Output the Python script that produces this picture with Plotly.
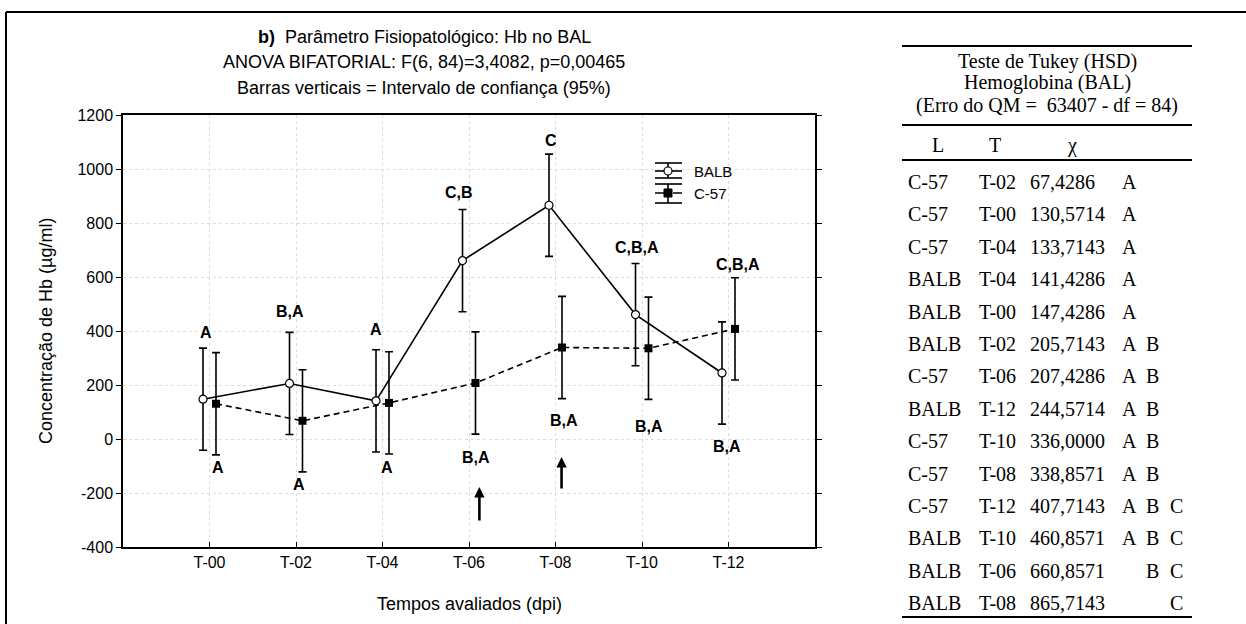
import plotly.graph_objects as go

# ---------------- data ----------------
times = ["T-00", "T-02", "T-04", "T-06", "T-08", "T-10", "T-12"]
balb_mean = [147.4286, 205.7143, 141.4286, 660.8571, 865.7143, 460.8571, 244.5714]
c57_mean = [130.5714, 67.4286, 133.7143, 207.4286, 338.8571, 336.0000, 407.7143]
balb_ci = [189.3, 189.3, 189.3, 189.3, 189.3, 189.3, 189.3]
c57_ci = [189.3, 189.3, 189.3, 189.3, 189.3, 189.3, 189.3]
y_ticks = [-400, -200, 0, 200, 400, 600, 800, 1000, 1200]
y_ticklabels = ["-400", "-200", "0", "200", "400", "600", "800", "1000", "1200"]

# group letters shown on the chart
top_letters = ["A", "B,A", "A", "C,B", "C", "C,B,A", "C,B,A"]
bottom_letters = ["A", "A", "A", "B,A", "B,A", "B,A", "B,A"]

# Tukey table
tab_L = ["C-57", "C-57", "C-57", "BALB", "BALB", "BALB", "C-57",
         "BALB", "C-57", "C-57", "C-57", "BALB", "BALB", "BALB"]
tab_T = ["T-02", "T-00", "T-04", "T-04", "T-00", "T-02", "T-06",
         "T-12", "T-10", "T-08", "T-12", "T-10", "T-06", "T-08"]
tab_X = ["67,4286", "130,5714", "133,7143", "141,4286", "147,4286", "205,7143", "207,4286",
         "244,5714", "336,0000", "338,8571", "407,7143", "460,8571", "660,8571", "865,7143"]
tab_A = ["A", "A", "A", "A", "A", "A", "A", "A", "A", "A", "A", "A", "", ""]
tab_B = ["", "", "", "", "", "B", "B", "B", "B", "B", "B", "B", "B", ""]
tab_C = ["", "", "", "", "", "", "", "", "", "", "C", "C", "C", "C"]

# ---------------- layout geometry ----------------
W, H = 1246, 624
PL, PR, PT, PB = 123, 815, 115, 547  # plot area in px
pw, ph = PR - PL, PB - PT


def px(x):
    return (x - PL) / pw


def py(y):
    return (PB - y) / ph


SANS = "Arial, Liberation Sans, sans-serif"
SERIF = "Times New Roman, Liberation Serif, serif"
off = 0.075
idx = list(range(len(times)))

fig = go.Figure()
fig.add_trace(go.Scatter(
    x=[i - off for i in idx], y=balb_mean, name="BALB", mode="lines+markers",
    line=dict(color="black", width=1.6),
    marker=dict(symbol="circle", size=8, color="white", line=dict(color="black", width=1.2)),
    error_y=dict(type="data", array=balb_ci, visible=True, color="black", thickness=1.6, width=4),
))
fig.add_trace(go.Scatter(
    x=[i + off for i in idx], y=c57_mean, name="C-57", mode="lines+markers",
    line=dict(color="black", width=1.6, dash="6px,4px"),
    marker=dict(symbol="square", size=8, color="black"),
    error_y=dict(type="data", array=c57_ci, visible=True, color="black", thickness=1.6, width=4),
))

ann = []
top_pos = [(-0.04, 396), (0.93, 474), (1.93, 404), (2.89, 913), (3.95, 1104), (4.94, 711), (6.11, 648)]
bot_pos = [(0.10, -107), (1.03, -167), (2.05, -107), (3.08, -70), (4.10, 68), (5.08, 47), (5.98, -28)]
for t, (x, y) in zip(top_letters, top_pos):
    ann.append(dict(x=x, y=y, xref="x", yref="y", text="<b>%s</b>" % t, showarrow=False,
                    font=dict(family=SANS, size=16, color="black")))
for t, (x, y) in zip(bottom_letters, bot_pos):
    ann.append(dict(x=x, y=y, xref="x", yref="y", text="<b>%s</b>" % t, showarrow=False,
                    font=dict(family=SANS, size=16, color="black")))
for (x, yh, yt) in [(3.12, -178, -307), (4.07, -67, -189)]:
    ann.append(dict(x=x, y=yh, ax=x, ay=yt, xref="x", yref="y", axref="x", ayref="y",
                    text="", showarrow=True, arrowhead=2, arrowsize=0.8, arrowwidth=2.6,
                    arrowcolor="black"))

title_lines = ["<b>b)</b>  Parâmetro Fisiopatológico: Hb no BAL",
               "ANOVA BIFATORIAL: F(6, 84)=3,4082, p=0,00465",
               "Barras verticais = Intervalo de confiança (95%)"]
for line, yy in zip(title_lines, [37, 62, 88]):
    ann.append(dict(x=px(424), y=py(yy), xref="paper", yref="paper", text=line, showarrow=False,
                    xanchor="center", yanchor="middle",
                    font=dict(family=SANS, size=18, color="black")))

ann.append(dict(x=px((PL + PR) / 2), y=py(604), xref="paper", yref="paper",
                text="Tempos avaliados (dpi)", showarrow=False, yanchor="middle",
                font=dict(family=SANS, size=18, color="black")))
ann.append(dict(x=px(46), y=py((PT + PB) / 2), xref="paper", yref="paper",
                text="Concentração de Hb (µg/ml)", showarrow=False, textangle=-90,
                xanchor="center", yanchor="middle",
                font=dict(family=SANS, size=18, color="black")))

# ---- custom legend (error-bar style icons) ----
shapes = []
LX0, LX1, LXC = 655, 682, 668


def hline(x0, x1, y, dash="solid", w=1.6):
    shapes.append(dict(type="line", xref="paper", yref="paper", x0=px(x0), x1=px(x1),
                       y0=py(y), y1=py(y), line=dict(color="black", width=w, dash=dash)))


def vline(x, y0, y1, w=1.6):
    shapes.append(dict(type="line", xref="paper", yref="paper", x0=px(x), x1=px(x),
                       y0=py(y0), y1=py(y1), line=dict(color="black", width=w)))


for name, yc, ytop, ybot, dash in [("BALB", 171, 163, 178, "solid"), ("C-57", 193, 184, 203, "dash")]:
    hline(LX0, LX1, ytop)
    hline(LX0, LX1, ybot)
    vline(LXC, ytop, ybot)
    hline(LX0, LX1, yc, dash=dash)
    ann.append(dict(x=px(692), y=py(yc), xref="paper", yref="paper", text=name, showarrow=False,
                    xanchor="left", yanchor="middle", font=dict(family=SANS, size=15, color="black")))
shapes.append(dict(type="circle", xref="paper", yref="paper", x0=px(LXC - 4), x1=px(LXC + 4),
                   y0=py(171 + 4), y1=py(171 - 4), fillcolor="white",
                   line=dict(color="black", width=1.2)))
shapes.append(dict(type="rect", xref="paper", yref="paper", x0=px(LXC - 4), x1=px(LXC + 4),
                   y0=py(193 + 4), y1=py(193 - 4), fillcolor="black",
                   line=dict(color="black", width=1)))

# ---- Tukey table ----
tfont = dict(family=SERIF, size=20, color="black")
tcx = 1047
for line, yy in zip(["Teste de Tukey (HSD)", "Hemoglobina (BAL)", "(Erro do QM =  63407 - df = 84)"],
                    [61, 83, 105]):
    ann.append(dict(x=px(tcx), y=py(yy), xref="paper", yref="paper", text=line, showarrow=False,
                    xanchor="center", yanchor="middle", font=tfont))
for h, hx in zip(["L", "T", "χ"], [938, 995, 1072]):
    ann.append(dict(x=px(hx), y=py(145), xref="paper", yref="paper", text=h, showarrow=False,
                    xanchor="center", yanchor="middle", font=tfont))
row0, pitch = 182, 32.4
for i in range(len(tab_L)):
    yy = row0 + i * pitch
    for txt, cx, anc in [(tab_L[i], 906, "left"), (tab_T[i], 977, "left"), (tab_X[i], 1028, "left"),
                         (tab_A[i], 1129, "center"), (tab_B[i], 1152, "center"), (tab_C[i], 1176, "center")]:
        if txt:
            ann.append(dict(x=px(cx), y=py(yy), xref="paper", yref="paper", text=txt,
                            showarrow=False, xanchor=anc, yanchor="middle", font=tfont))

for yy in [46, 125, 160, 617]:
    hline(902, 1192, yy, w=2)
hline(6, 1246, 12, w=2)
vline(6, 12, 624, w=2)

fig.update_layout(
    width=W, height=H,
    margin=dict(l=PL, r=W - PR, t=PT, b=H - PB),
    paper_bgcolor="white", plot_bgcolor="white",
    font=dict(family=SANS, size=16, color="black"),
    showlegend=False,
    annotations=ann, shapes=shapes,
)
fig.update_xaxes(range=[-1, 7], tickvals=idx, ticktext=times, showgrid=True,
                 gridcolor="#dcdcdc", griddash="dot", zeroline=False, showline=True,
                 linecolor="black", linewidth=1.5, mirror=True, ticks="inside", ticklen=5,
                 tickcolor="black", tickfont=dict(family=SANS, size=16))
fig.update_yaxes(range=[-400, 1200], tickvals=y_ticks, ticktext=y_ticklabels, showgrid=True,
                 gridcolor="#dcdcdc", griddash="dot", zeroline=False, showline=True,
                 linecolor="black", linewidth=1.5, mirror="ticks", ticks="outside", ticklen=5,
                 tickcolor="black", tickfont=dict(family=SANS, size=16))

fig.write_html("out.html", config={"displayModeBar": False},
               post_script="document.body.style.margin='0';document.body.style.overflow='hidden';")
